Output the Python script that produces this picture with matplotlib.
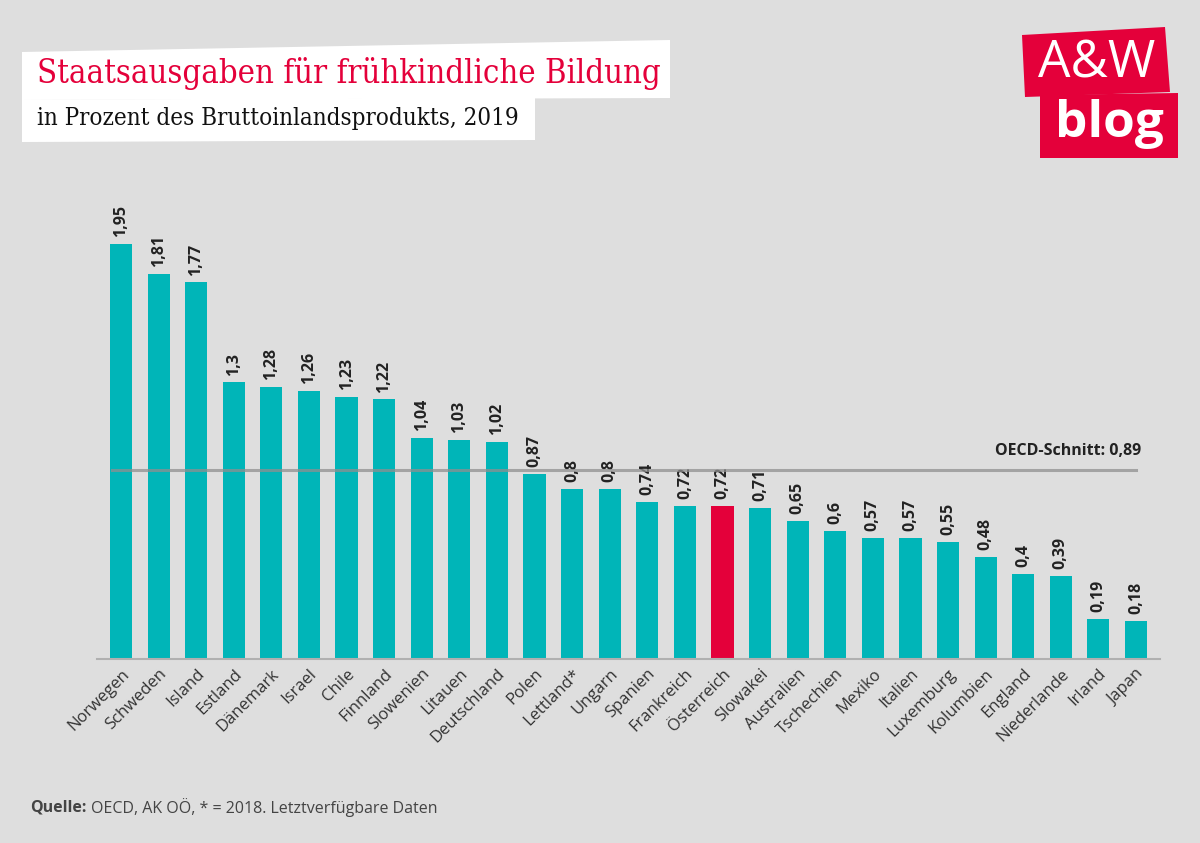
import matplotlib
matplotlib.use('Agg')
import matplotlib.pyplot as plt
from matplotlib.patches import Polygon

# Data
countries = ['Norwegen', 'Schweden', 'Island', 'Estland', 'Dänemark', 'Israel', 'Chile',
             'Finnland', 'Slowenien', 'Litauen', 'Deutschland', 'Polen', 'Lettland*',
             'Ungarn', 'Spanien', 'Frankreich', 'Österreich', 'Slowakei', 'Australien',
             'Tschechien', 'Mexiko', 'Italien', 'Luxemburg', 'Kolumbien', 'England',
             'Niederlande', 'Irland', 'Japan']
values = [1.95, 1.81, 1.77, 1.30, 1.28, 1.26, 1.23, 1.22, 1.04, 1.03, 1.02, 0.87, 0.80,
          0.80, 0.74, 0.72, 0.72, 0.71, 0.65, 0.60, 0.57, 0.57, 0.55, 0.48, 0.40, 0.39,
          0.19, 0.18]
value_labels = ['1,95', '1,81', '1,77', '1,3', '1,28', '1,26', '1,23', '1,22', '1,04',
                '1,03', '1,02', '0,87', '0,8', '0,8', '0,74', '0,72', '0,72', '0,71',
                '0,65', '0,6', '0,57', '0,57', '0,55', '0,48', '0,4', '0,39', '0,19', '0,18']
highlight = 'Österreich'
oecd_avg = 0.89
oecd_label = 'OECD-Schnitt: 0,89'

_BG = '#dedede'
_TEAL = '#00b5b8'
_RED = '#e4003a'
_TEXT = '#222222'
_SANS = ['Open Sans', 'DejaVu Sans']

W, H = 1200, 843


def px(x, y):
    return x / W, 1 - y / H


fig = plt.figure(figsize=(12, 8.43), dpi=100)
fig.patch.set_facecolor(_BG)

ax = fig.add_axes([97 / W, 184 / H, 1063 / W, 468 / H])
ax.set_facecolor('none')

colors = [_RED if c == highlight else _TEAL for c in countries]
x = list(range(len(countries)))
ax.bar(x, values, width=0.59, color=colors, edgecolor='none', zorder=2)

for xi, v, lbl in zip(x, values, value_labels):
    ax.annotate(lbl, (xi, v), xytext=(0, 5), textcoords='offset points',
                rotation=90, ha='center', va='bottom', fontsize=11.5,
                fontweight='bold', color=_TEXT, family=_SANS)

ax.axhline(oecd_avg, xmin=0.41 / 28.28, xmax=0.977, color='#8f8f8f', lw=2.2,
           alpha=0.75, zorder=3)
ax.text(27.15, oecd_avg + 0.05, oecd_label, ha='right', va='bottom', fontsize=11.5,
        fontweight='bold', color=_TEXT, family=_SANS)

ax.set_xlim(-0.64, 27.64)
ax.set_ylim(0, 2.2)
ax.set_xticks(x)
ax.set_xticklabels(countries, rotation=45, ha='right', rotation_mode='anchor',
                   fontsize=12, color='#333333', family=_SANS)
ax.tick_params(axis='x', length=0, pad=5)
ax.set_yticks([])
for side in ('top', 'right', 'left'):
    ax.spines[side].set_visible(False)
ax.spines['bottom'].set_color('#b0b0b0')
ax.spines['bottom'].set_linewidth(1.5)

# title boxes
fig.patches.append(Polygon([px(22, 52), px(670, 40), px(670, 98), px(22, 100)],
                           closed=True, transform=fig.transFigure,
                           facecolor='white', edgecolor='none'))
fig.patches.append(Polygon([px(22, 100), px(535, 97), px(535, 140), px(22, 142)],
                           closed=True, transform=fig.transFigure,
                           facecolor='white', edgecolor='none'))
fig.text(*px(37, 73), 'Staatsausgaben für frühkindliche Bildung', color=_RED,
         fontsize=23.5, family=['DejaVu Serif'], fontstretch='condensed',
         ha='left', va='center')
fig.text(*px(37, 119), 'in Prozent des Bruttoinlandsprodukts, 2019', color='#111111',
         fontsize=17.3, family=['DejaVu Serif'], fontstretch='condensed',
         ha='left', va='center')

# logo
fig.patches.append(Polygon([px(1022, 35), px(1165, 27), px(1170, 92), px(1025, 97)],
                           closed=True, transform=fig.transFigure,
                           facecolor=_RED, edgecolor='none'))
fig.patches.append(Polygon([px(1040, 95), px(1178, 93), px(1178, 158), px(1040, 158)],
                           closed=True, transform=fig.transFigure,
                           facecolor=_RED, edgecolor='none'))
fig.text(*px(1097, 64), 'A&W', color='white', fontsize=37, family=_SANS,
         ha='center', va='center')
fig.text(*px(1109, 124), 'blog', color='white', fontsize=37, fontweight='bold',
         family=_SANS, ha='center', va='center')

# source
q = fig.text(*px(30, 808), 'Quelle:', fontsize=11.5, fontweight='bold', color='#444444',
             family=_SANS, ha='left', va='center')
fig.canvas.draw()
q_end = q.get_window_extent().x1
fig.text(q_end / W + 5 / W, 1 - 808 / H, 'OECD, AK OÖ, * = 2018. Letztverfügbare Daten',
         fontsize=11.5, color='#444444', family=_SANS, ha='left', va='center')

fig.savefig('out.png', dpi=100, facecolor=_BG)
